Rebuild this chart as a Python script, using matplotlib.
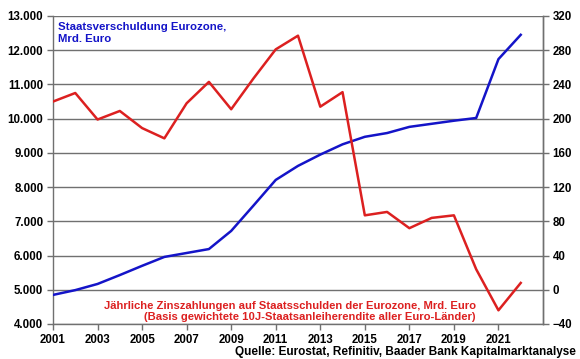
import matplotlib
matplotlib.use("Agg")
import matplotlib.pyplot as plt
from matplotlib.ticker import FuncFormatter

years = list(range(2001, 2023))
debt = [4850, 4990, 5170, 5430, 5700, 5960, 6075, 6190, 6720, 7460, 8210, 8620,
        8950, 9250, 9470, 9580, 9760, 9850, 9940, 10020, 11740, 12450]
interest = [220, 230, 199, 209, 189, 177, 218, 243, 211, 247, 281, 297,
            214, 231, 87, 91, 72, 84, 87, 24, -24, 8]
xticks = list(range(2001, 2022, 2))
left_ticks = list(range(4000, 13001, 1000))
right_ticks = list(range(-40, 321, 40))

plt.rcParams['font.family'] = ['Liberation Sans', 'DejaVu Sans']
plt.rcParams['font.weight'] = 'bold'

BLUE = '#1414C8'
RED = '#DC2020'

fig = plt.figure(figsize=(5.8, 3.59), dpi=100)
ax = fig.add_axes([53/580, 1-324/359, (543-53)/580, (324-16)/359])
ax2 = ax.twinx()

ax.plot(years, debt, color=BLUE, lw=1.8, zorder=3)
ax2.plot(years, interest, color=RED, lw=1.8, zorder=3)

ax.set_xlim(2001, 2023)
ax.set_ylim(4000, 13000)
ax2.set_ylim(-40, 320)
ax.set_xticks(xticks)
ax.set_xticklabels([str(y) for y in xticks])
ax.set_yticks(left_ticks)
ax.yaxis.set_major_formatter(FuncFormatter(lambda v, p: f"{int(v):,}".replace(",", ".")))
ax2.set_yticks(right_ticks)

ax.grid(axis='y', color='#707070', lw=1.0, zorder=0)
ax.set_axisbelow(True)
for a in (ax, ax2):
    a.spines['top'].set_visible(False)
    for s in ('left', 'right', 'bottom'):
        a.spines[s].set_color('#707070')
        a.spines[s].set_linewidth(1.0)
    a.tick_params(axis='both', labelsize=8.3, color='#707070', length=4, width=1, pad=3)
ax2.spines['left'].set_visible(False)
ax2.spines['bottom'].set_visible(False)

ax.text(5/490, 1-6/308, "Staatsverschuldung Eurozone,\nMrd. Euro", transform=ax.transAxes,
        color=BLUE, fontsize=8.2, fontweight='bold', va='top', ha='left', linespacing=1.2)
ax.text((476-53)/490, 2/308, "Jährliche Zinszahlungen auf Staatsschulden der Eurozone, Mrd. Euro\n"
        "(Basis gewichtete 10J-Staatsanleiherendite aller Euro-Länder)",
        transform=ax.transAxes, color=RED, fontsize=8.1, fontweight='bold',
        va='bottom', ha='right', multialignment='right', linespacing=1.15)
fig.text(576/580, 1-355/359, "Quelle: Eurostat, Refinitiv, Baader Bank Kapitalmarktanalyse",
         color='black', fontsize=8.5, fontweight='bold', ha='right', va='baseline')

fig.savefig("out.png", dpi=100, facecolor='white')
